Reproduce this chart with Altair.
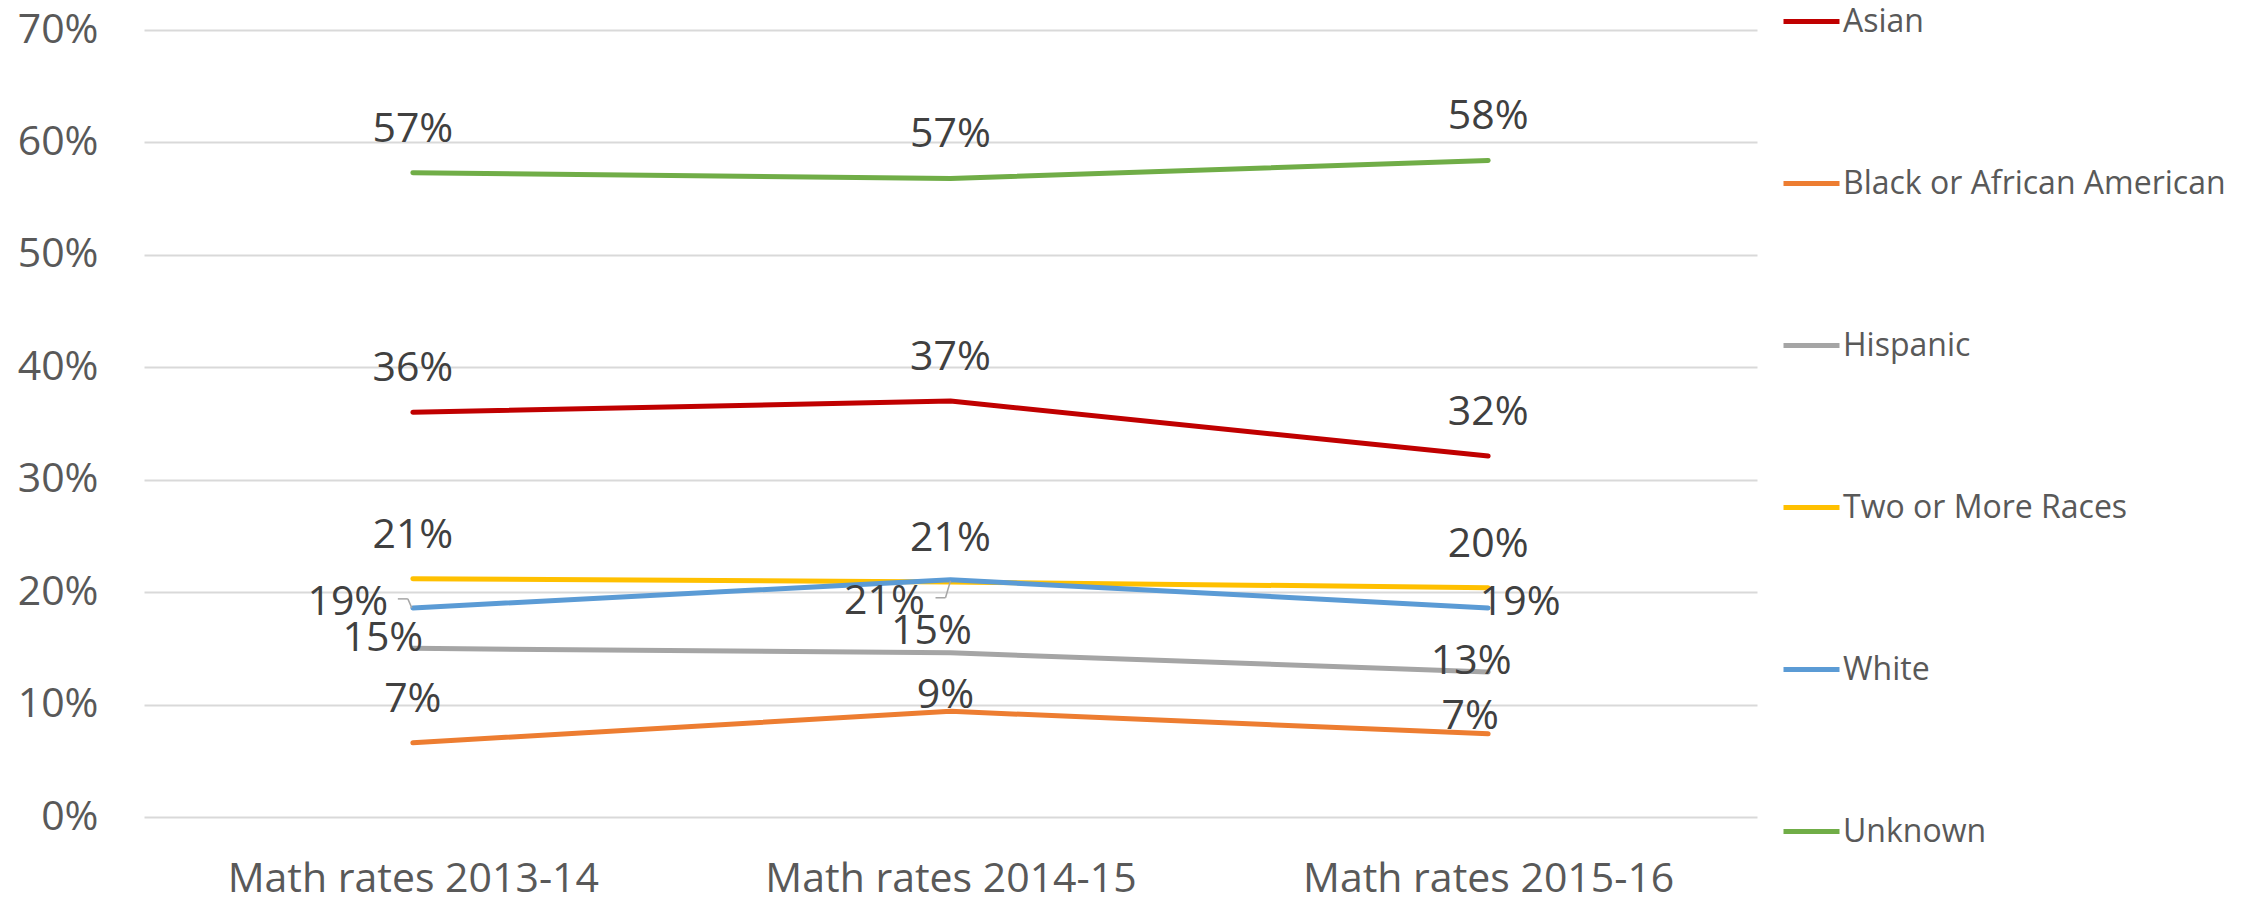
import altair as alt
import pandas as pd

periods = ["Math rates 2013-14", "Math rates 2014-15", "Math rates 2015-16"]
groups = ["Asian", "Black or African American", "Hispanic", "Two or More Races", "White", "Unknown"]
asian = [0.360, 0.370, 0.321]
black = [0.066, 0.094, 0.074]
hispanic = [0.150, 0.146, 0.129]
two_or_more = [0.212, 0.209, 0.204]
white = [0.186, 0.211, 0.186]
unknown = [0.573, 0.568, 0.584]
colors = ["#C00000", "#ED7D31", "#A5A5A5", "#FFC000", "#5B9BD5", "#70AD47"]
y_ticks = [0.0, 0.1, 0.2, 0.3, 0.4, 0.5, 0.6, 0.7]

series = [asian, black, hispanic, two_or_more, white, unknown]
rows = []
for g, vals in zip(groups, series):
    for i, (p, v) in enumerate(zip(periods, vals)):
        rows.append({"group": g, "period": p, "idx": i, "value": v})
df = pd.DataFrame(rows)

# label nudges in pixels (dx, dy); default sits centred above the point
DEFAULT_NUDGE = (0, -31)
nudges = {
    ("White", 0): (-65, 7), ("White", 1): (-66, 34), ("White", 2): (32, 7),
    ("Hispanic", 0): (-30, 3), ("Hispanic", 1): (-19, -9), ("Hispanic", 2): (-17, 2),
    ("Black or African American", 1): (-5, -3),
    ("Black or African American", 2): (-18, -5),
}
# leader-line segments for displaced labels: (group, idx, x_off, x2_off, y_off, y2_off)
leaders = [
    ("White", 0, -15, -5, -9, -9), ("White", 0, -5, -1, -9, 0),
    ("White", 1, -15, -5, 18, 18), ("White", 1, -5, 0, 18, 1),
]

FONT = "Open Sans"

x_enc = alt.X(
    "period:N", sort=periods,
    scale=alt.Scale(type="point", padding=0.5),
    axis=alt.Axis(title=None, labelFontSize=41, labelFont=FONT, labelColor="#595959",
                  labelPadding=42, ticks=False, domain=False, grid=False, labelAngle=0,
                  labelLimit=0),
)
y_enc = alt.Y(
    "value:Q",
    scale=alt.Scale(domain=[0, 0.7], nice=False),
    axis=alt.Axis(title=None, format=".0%", values=y_ticks, labelFontSize=41, labelFont=FONT,
                  labelColor="#595959", labelPadding=46, domain=False, ticks=False,
                  gridColor="#D9D9D9", gridWidth=2),
)
color_enc = alt.Color(
    "group:N", sort=groups,
    scale=alt.Scale(domain=groups, range=colors),
    legend=alt.Legend(title=None, orient="none", legendX=1637, legendY=-39,
                      symbolType="stroke", symbolSize=3136, symbolStrokeWidth=5,
                      labelFontSize=32, labelFont=FONT, labelColor="#595959",
                      labelOffset=1, rowPadding=115, padding=0, labelLimit=0),
)

base = alt.Chart(df)
lines = base.mark_line(strokeWidth=5, strokeCap="round", strokeJoin="round").encode(
    x=x_enc, y=y_enc, color=color_enc, order="idx:Q"
)

layers = [lines]
for g, i, xo, x2o, yo, y2o in leaders:
    r = base.mark_rule(
        color="#A6A6A6", strokeWidth=1.5,
        xOffset=xo, x2Offset=x2o, yOffset=yo, y2Offset=y2o,
    ).encode(
        x=x_enc, y=y_enc, x2="period:N", y2="value:Q"
    ).transform_filter(
        (alt.datum.group == g) & (alt.datum.idx == i)
    )
    layers.append(r)

for g in groups:
    for i in range(len(periods)):
        dx, dy = nudges.get((g, i), DEFAULT_NUDGE)
        t = base.mark_text(
            dx=dx, dy=dy, align="center", baseline="alphabetic",
            fontSize=41, font=FONT, color="#404040",
        ).encode(
            x=x_enc, y=y_enc, text=alt.Text("value:Q", format=".0%")
        ).transform_filter(
            (alt.datum.group == g) & (alt.datum.idx == i)
        )
        layers.append(t)

chart = alt.layer(*layers).properties(
    width=1613, height=787,
    background="white",
    autosize=alt.AutoSizeParams(type="none"),
    padding={"left": 136, "top": 22, "right": 490, "bottom": 76},
).configure_view(strokeWidth=0, stroke="transparent")

chart.save("out.html", embed_options={"renderer": "svg", "actions": False})
